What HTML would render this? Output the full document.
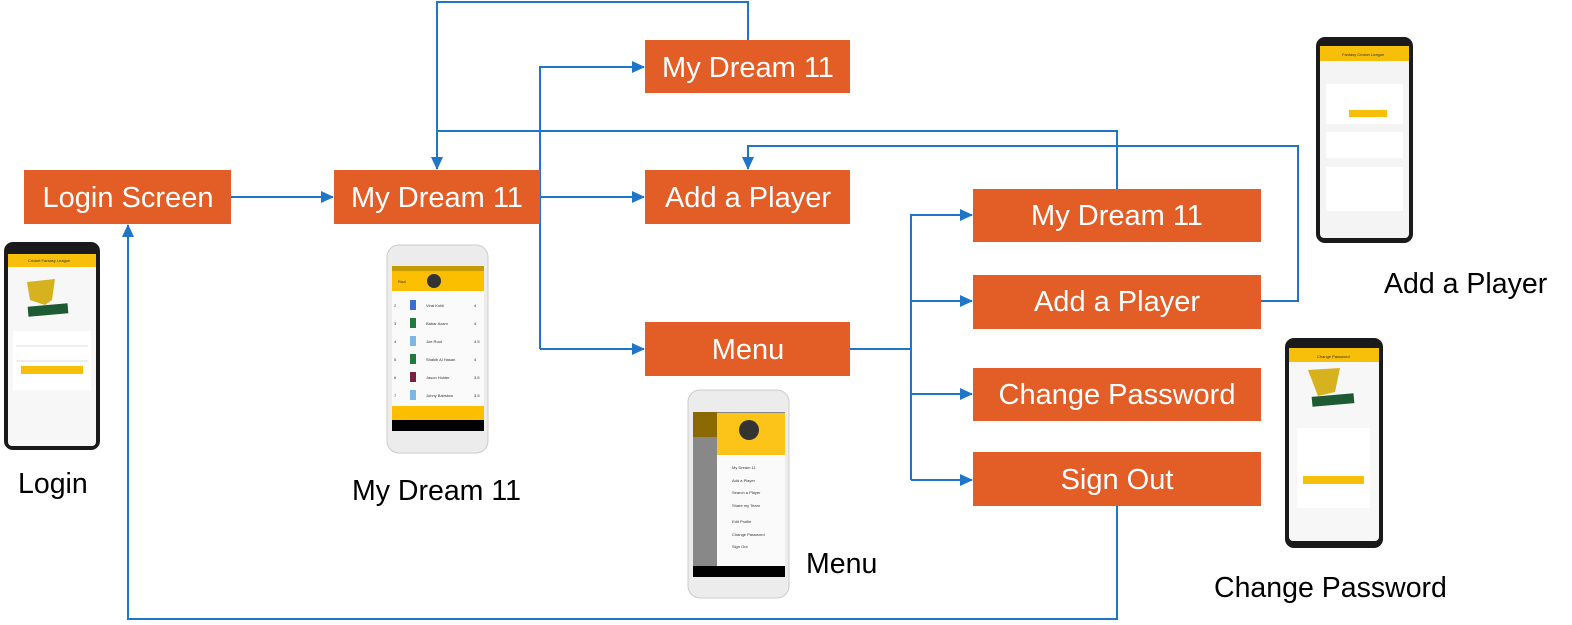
<!DOCTYPE html>
<html><head><meta charset="utf-8"><style>
html,body{margin:0;padding:0;background:#fff;}
svg{display:block;font-family:"Liberation Sans",Arial,sans-serif;}
.bx{fill:#e35d26;}
.bt{fill:#fff;font-size:29px;text-anchor:middle;}
.lb{fill:#000;font-size:28.5px;}
.ln{fill:none;stroke:#1f75c8;stroke-width:2;}
.t{font-size:4px;fill:#333;}
</style></head><body>
<svg width="1572" height="625" viewBox="0 0 1572 625">
<defs><marker id="a" markerWidth="13" markerHeight="12" refX="12" refY="6" orient="auto" markerUnits="userSpaceOnUse"><path d="M0,0 L13,6 L0,12 z" fill="#1f75c8"/></marker></defs>

<path class="ln" d="M231,197 H333" marker-end="url(#a)"/>
<path class="ln" d="M540,197 H644" marker-end="url(#a)"/>
<path class="ln" d="M540,349 V67 H644" marker-end="url(#a)"/>
<path class="ln" d="M540,349 H644" marker-end="url(#a)"/>
<path class="ln" d="M748,40 V2 H437 V169" marker-end="url(#a)"/>
<path class="ln" d="M1117,189 V131 H437"/>
<path class="ln" d="M1261,301 H1298 V146 H748 V169" marker-end="url(#a)"/>
<path class="ln" d="M850,349 H911"/>
<path class="ln" d="M911,480 V215 H972" marker-end="url(#a)"/>
<path class="ln" d="M911,301 H972" marker-end="url(#a)"/>
<path class="ln" d="M911,394 H972" marker-end="url(#a)"/>
<path class="ln" d="M911,480 H972" marker-end="url(#a)"/>
<path class="ln" d="M1117,506 V619 H128 V225" marker-end="url(#a)"/>

<rect class="bx" x="24" y="170" width="207" height="54"/><text class="bt" x="128" y="207">Login Screen</text>
<rect class="bx" x="334" y="170" width="206" height="54"/><text class="bt" x="437" y="207">My Dream 11</text>
<rect class="bx" x="645" y="40" width="205" height="53"/><text class="bt" x="748" y="77">My Dream 11</text>
<rect class="bx" x="645" y="170" width="205" height="54"/><text class="bt" x="748" y="207">Add a Player</text>
<rect class="bx" x="645" y="322" width="205" height="54"/><text class="bt" x="748" y="359">Menu</text>
<rect class="bx" x="973" y="189" width="288" height="53"/><text class="bt" x="1117" y="225">My Dream 11</text>
<rect class="bx" x="973" y="275" width="288" height="54"/><text class="bt" x="1117" y="311">Add a Player</text>
<rect class="bx" x="973" y="368" width="288" height="53"/><text class="bt" x="1117" y="404">Change Password</text>
<rect class="bx" x="973" y="452" width="288" height="54"/><text class="bt" x="1117" y="489">Sign Out</text>

<text class="lb" x="18" y="493">Login</text>
<text class="lb" x="352" y="500">My Dream 11</text>
<text class="lb" x="806" y="573">Menu</text>
<text class="lb" x="1384" y="293">Add a Player</text>
<text class="lb" x="1214" y="597">Change Password</text>

<rect x="4" y="242" width="96" height="208" rx="9" fill="#1a1a1a"/>
<rect x="8" y="254" width="88" height="192" rx="4" fill="#f7f7f7"/>
<rect x="8" y="254" width="88" height="13" fill="#f8bf0a"/>
<text class="t" x="28" y="262">Cricket Fantasy League</text>
<polygon points="27,282 55,279 52,300 45,305 30,300" fill="#d5b21e"/>
<rect x="28" y="305" width="40" height="10" fill="#1e5a32" transform="rotate(-5 48 310)"/>
<rect x="13" y="331" width="78" height="59" fill="#fff"/>
<line x1="16" y1="346" x2="88" y2="346" stroke="#ddd"/>
<line x1="16" y1="361" x2="88" y2="361" stroke="#ddd"/>
<rect x="21" y="366" width="62" height="8" fill="#f8bf0a"/>

<rect x="387" y="245" width="101" height="208" rx="12" fill="#ececec" stroke="#ccc"/>
<rect x="392" y="266" width="92" height="165" fill="#fafafa"/>
<rect x="392" y="266" width="92" height="5" fill="#c49a05"/>
<rect x="392" y="271" width="92" height="20" fill="#fbbf00"/>
<circle cx="434" cy="281" r="7" fill="#333"/>
<text class="t" x="398" y="283" fill="#fff">Razi</text>
<g class="t">
<text x="394" y="307">2</text><text x="426" y="307">Virat Kohli</text><text x="474" y="307">4</text>
<text x="394" y="325">3</text><text x="426" y="325">Babar Azam</text><text x="474" y="325">4</text>
<text x="394" y="343">4</text><text x="426" y="343">Joe Root</text><text x="474" y="343">4.5</text>
<text x="394" y="361">5</text><text x="426" y="361">Shakib Al Hasan</text><text x="474" y="361">4</text>
<text x="394" y="379">6</text><text x="426" y="379">Jason Holder</text><text x="474" y="379">3.5</text>
<text x="394" y="397">7</text><text x="426" y="397">Johny Bairstow</text><text x="474" y="397">3.5</text>
</g>
<rect x="410" y="300" width="6" height="10" fill="#3b6fd0"/>
<rect x="410" y="318" width="6" height="10" fill="#1f7a3c"/>
<rect x="410" y="336" width="6" height="10" fill="#7bb6e5"/>
<rect x="410" y="354" width="6" height="10" fill="#1f7a3c"/>
<rect x="410" y="372" width="6" height="10" fill="#7a1f3c"/>
<rect x="410" y="390" width="6" height="10" fill="#7bb6e5"/>
<rect x="392" y="406" width="92" height="14" fill="#fbbf00"/>
<rect x="392" y="420" width="92" height="11" fill="#000"/>

<rect x="688" y="390" width="101" height="208" rx="12" fill="#ececec" stroke="#ccc"/>
<rect x="693" y="412" width="92" height="165" fill="#888"/>
<rect x="693" y="412" width="24" height="25" fill="#8a6a00"/>
<rect x="717" y="413" width="68" height="42" fill="#fcc419"/>
<circle cx="749" cy="430" r="10" fill="#333"/>
<rect x="717" y="455" width="68" height="111" fill="#fafafa"/>
<g class="t">
<text x="732" y="469">My Dream 11</text><text x="732" y="482">Add a Player</text>
<text x="732" y="494">Search a Player</text><text x="732" y="507">Share my Team</text>
<text x="732" y="523">Edit Profile</text><text x="732" y="536">Change Password</text>
<text x="732" y="548">Sign Out</text>
</g>
<rect x="693" y="566" width="92" height="11" fill="#000"/>

<rect x="1316" y="37" width="97" height="206" rx="9" fill="#1a1a1a"/>
<rect x="1320" y="46" width="89" height="192" rx="4" fill="#f4f4f4"/>
<rect x="1320" y="46" width="89" height="15" fill="#f8bf0a"/>
<text class="t" x="1342" y="56">Fantasy Cricket League</text>
<rect x="1326" y="84" width="77" height="40" fill="#fff"/>
<rect x="1349" y="110" width="38" height="7" fill="#f8bf0a"/>
<rect x="1326" y="132" width="77" height="26" fill="#fff"/>
<rect x="1326" y="167" width="77" height="44" fill="#fff"/>

<rect x="1285" y="338" width="98" height="210" rx="9" fill="#1a1a1a"/>
<rect x="1289" y="348" width="90" height="193" rx="4" fill="#f7f7f7"/>
<rect x="1289" y="348" width="90" height="14" fill="#f8bf0a"/>
<text class="t" x="1317" y="358">Change Password</text>
<polygon points="1308,370 1340,368 1335,392 1318,396" fill="#d5b21e"/>
<rect x="1312" y="395" width="42" height="10" fill="#1e5a32" transform="rotate(-5 1333 400)"/>
<rect x="1297" y="428" width="73" height="80" fill="#fff"/>
<rect x="1303" y="476" width="61" height="8" fill="#f8bf0a"/>
</svg>
</body></html>
